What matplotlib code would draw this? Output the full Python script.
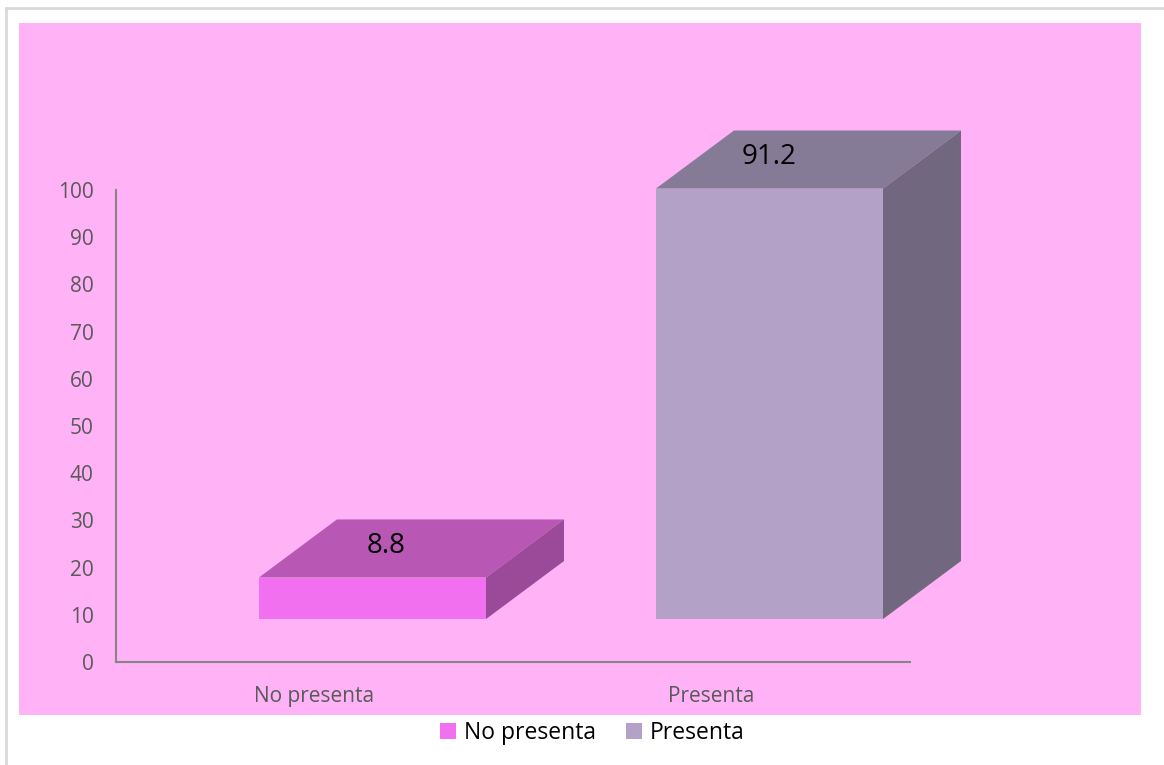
import matplotlib
matplotlib.use("Agg")
import matplotlib.pyplot as plt
from matplotlib.patches import Polygon, Patch, Rectangle
from matplotlib.lines import Line2D

categories = ["No presenta", "Presenta"]
values = [8.8, 91.2]
y_ticks = [0, 10, 20, 30, 40, 50, 60, 70, 80, 90, 100]

front_colors = ["#F070F0", "#B3A1C7"]
top_colors = ["#B857B4", "#857B96"]
side_colors = ["#9A4A98", "#716880"]

plt.rcParams["font.family"] = ["Open Sans", "DejaVu Sans"]

W, H = 1164, 765
fig = plt.figure(figsize=(W / 100, H / 100), dpi=100, facecolor="white")

# chart frame and pink plot background (pixel coords -> figure fraction)
def fx(px):
    return px / W

def fy(py):
    return 1 - py / H

fig.add_artist(Line2D([fx(5.5), fx(5.5)], [fy(765), fy(7.5)], color="#D9D9D9", lw=2))
fig.add_artist(Line2D([fx(5.5), fx(1164)], [fy(7.5), fy(7.5)], color="#D9D9D9", lw=2))
fig.add_artist(Rectangle((fx(19), fy(715)), fx(1141) - fx(19), fy(23) - fy(715),
                         facecolor="#FFB2F5", edgecolor="none", zorder=0))

ax = fig.add_axes([fx(116), fy(662), fx(910) - fx(116), fy(190) - fy(662)])
ax.set_facecolor("none")
ax.set_xlim(0, len(categories))
ax.set_ylim(0, 100)

# 3D look: floor offset, depth and bar footprint in data units
floor = 9.1
dx, dy = 0.1965, 12.3
left_off, width = 0.36, 0.572

for i, v in enumerate(values):
    x0 = i + left_off
    x1 = x0 + width
    y0 = floor
    y1 = floor + v
    front = Polygon([(x0, y0), (x1, y0), (x1, y1), (x0, y1)], closed=True,
                    facecolor=front_colors[i], edgecolor="none", clip_on=False, zorder=3)
    top = Polygon([(x0, y1), (x1, y1), (x1 + dx, y1 + dy), (x0 + dx, y1 + dy)], closed=True,
                  facecolor=top_colors[i], edgecolor="none", clip_on=False, zorder=3)
    side = Polygon([(x1, y0), (x1 + dx, y0 + dy), (x1 + dx, y1 + dy), (x1, y1)], closed=True,
                   facecolor=side_colors[i], edgecolor="none", clip_on=False, zorder=3)
    for p in (front, top, side):
        ax.add_patch(p)
    lx = x0 + width / 2 + (0.035 if i == 0 else 0)
    ax.text(lx, y1 + dy * 0.55, f"{v}", ha="center", va="center",
            fontsize=20, color="black", zorder=4, clip_on=False)

ax.set_xticks([i + 0.5 for i in range(len(categories))])
ax.set_xticklabels(categories)
ax.set_yticks(y_ticks)
ax.tick_params(axis="both", length=0, labelsize=15, labelcolor="#595959")
ax.tick_params(axis="y", pad=16)
ax.tick_params(axis="x", pad=17)
for s in ("top", "right"):
    ax.spines[s].set_visible(False)
for s in ("left", "bottom"):
    ax.spines[s].set_color("#868686")
    ax.spines[s].set_linewidth(1.5)

handles = [Patch(facecolor=c, edgecolor="none") for c in front_colors]
fig.legend(handles, categories, loc="center", bbox_to_anchor=(fx(592), fy(733)),
           ncol=2, frameon=False, fontsize=16.5, handlelength=0.7, handleheight=0.7,
           handletextpad=0.35, columnspacing=1.3, borderpad=0)

fig.savefig("out.png", dpi=100, facecolor="white")
